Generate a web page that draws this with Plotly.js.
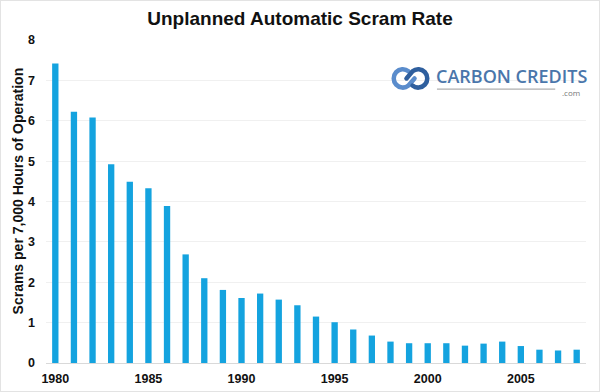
<!DOCTYPE html>
<html>
<head>
<meta charset="utf-8">
<script src="https://cdn.plot.ly/plotly-3.0.1.min.js"></script>
<style>
html,body{margin:0;padding:0;background:#fff;}
#chart{width:598px;height:390px;border:1px solid #e3e3e3;}
</style>
</head>
<body>
<div id="chart"></div>
<script>
const years = [1980,1981,1982,1983,1984,1985,1986,1987,1988,1989,1990,1991,1992,1993,1994,1995,1996,1997,1998,1999,2000,2001,2002,2003,2004,2005,2006,2007,2008];
const scramRate = [7.42,6.22,6.08,4.92,4.49,4.33,3.89,2.69,2.10,1.81,1.61,1.72,1.57,1.43,1.15,1.01,0.83,0.68,0.53,0.49,0.49,0.49,0.43,0.48,0.53,0.42,0.33,0.31,0.33];
const xTickVals = [1980,1985,1990,1995,2000,2005];
const yTickVals = [0,1,2,3,4,5,6,7,8];
const titleText = "Unplanned Automatic Scram Rate";
const yTitleText = "Scrams per 7,000 Hours of Operation";
const logoText = "CARBON CREDITS";
const logoSub = ".com";

const iconSvg = '<svg xmlns="http://www.w3.org/2000/svg" width="88" height="52" viewBox="0 0 44 26">' +
  '<path d="M20 6 A9 9 0 1 0 20 20 L26 13" fill="none" stroke="#5a8ccc" stroke-width="4.5" stroke-linecap="round"/>' +
  '<path d="M24 20 A9 9 0 1 0 24 6 L18 13" fill="none" stroke="#2f5f9e" stroke-width="4.5" stroke-linecap="round"/>' +
  '</svg>';
const iconSrc = 'data:image/svg+xml;base64,' + btoa(iconSvg);

const tickFont = {family: "Liberation Sans, Arial, sans-serif", size: 12.5, color: "#111", weight: 700};
const yTitleFont = {family: "Liberation Sans, Arial, sans-serif", size: 14, color: "#111", weight: 700};

const trace = {
  type: 'bar',
  x: years,
  y: scramRate,
  marker: {color: '#14a3df'},
  hoverinfo: 'x+y'
};

const layout = {
  width: 598, height: 390,
  margin: {l: 45, r: 13, t: 39, b: 28},
  paper_bgcolor: '#ffffff',
  plot_bgcolor: '#ffffff',
  bargap: 0.66,
  showlegend: false,
  title: {
    text: titleText,
    font: {family: "Liberation Sans, Arial, sans-serif", size: 19, color: "#111", weight: 700},
    x: 0.5, xanchor: 'center',
    y: 1 - 17/390, yanchor: 'middle', yref: 'container'
  },
  xaxis: {
    range: [1979.5, 2008.5],
    tickvals: xTickVals,
    ticktext: xTickVals.map(String),
    tickfont: tickFont,
    showgrid: false,
    zeroline: false,
    showline: true,
    linecolor: '#d9d9d9',
    linewidth: 1,
    ticks: '',
    ticklabelstandoff: 4
  },
  yaxis: {
    range: [0, 8],
    tickvals: yTickVals,
    ticktext: yTickVals.map(String),
    tickfont: tickFont,
    showgrid: true,
    gridcolor: '#f0f0f0',
    zeroline: false,
    showline: false,
    ticks: '',
    ticklabelstandoff: 10
  },
  images: [{
    source: iconSrc,
    xref: 'paper', yref: 'paper',
    x: 0.634, y: 0.922,
    sizex: 0.082, sizey: 0.082,
    xanchor: 'left', yanchor: 'top',
    sizing: 'stretch', layer: 'above'
  }],
  shapes: [{
    type: 'line', xref: 'paper', yref: 'paper',
    x0: 0.724, x1: 0.943, y0: 0.848, y1: 0.848,
    line: {color: '#9a9a9a', width: 1}
  }],
  annotations: [
    {
      text: yTitleText, xref: 'paper', yref: 'paper',
      x: -0.052, y: 0.534, xanchor: 'center', yanchor: 'middle',
      textangle: -90, showarrow: false,
      font: yTitleFont
    },
    {
      text: logoText, xref: 'paper', yref: 'paper',
      x: 0.862, y: 0.89, xanchor: 'center', yanchor: 'middle',
      showarrow: false,
      font: {family: "Open Sans, sans-serif", size: 18, color: '#4a76ab', weight: 600}
    },
    {
      text: logoSub, xref: 'paper', yref: 'paper',
      x: 0.973, y: 0.838, xanchor: 'center', yanchor: 'middle',
      showarrow: false,
      font: {family: "Open Sans, sans-serif", size: 8, color: '#777'}
    }
  ]
};

Plotly.newPlot('chart', [trace], layout, {displayModeBar: false, staticPlot: true});
</script>
</body>
</html>
